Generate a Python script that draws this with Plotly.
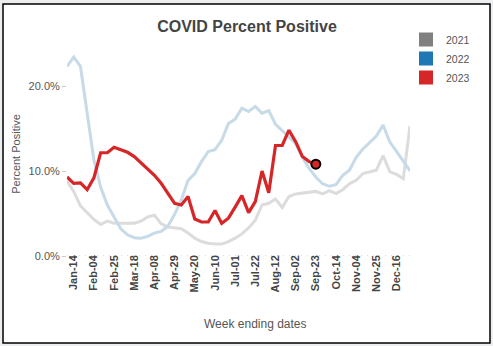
import pandas as pd
import plotly.graph_objects as go

# Week ending dates (Saturdays of 2023)
WEEKS = list(pd.date_range("2023-01-07", periods=52, freq="7D").strftime("%b-%d"))

TICK_LABELS = ["Jan-14", "Feb-04", "Feb-25", "Mar-18", "Apr-08", "Apr-29", "May-20",
               "Jun-10", "Jul-01", "Jul-22", "Aug-12", "Sep-02", "Sep-23", "Oct-14",
               "Nov-04", "Nov-25", "Dec-16"]

# Percent positive (%)
Y2021 = [8.8, 7.6, 5.9, 5.1, 4.3, 3.7, 4.1, 3.85, 3.85, 3.8, 3.85, 4.1, 4.6, 4.8,
         3.8, 3.4, 3.3, 3.2, 2.7, 2.1, 1.7, 1.5, 1.4, 1.4, 1.7, 2.1, 2.6, 3.3,
         4.2, 6.0, 6.2, 6.7, 5.7, 7.0, 7.3, 7.4, 7.45, 7.6, 7.3, 7.7, 7.35, 7.8,
         8.5, 8.9, 9.7, 9.9, 10.1, 11.8, 9.9, 9.6, 9.1, 15.3]

Y2022 = [22.3, 23.4, 22.3, 16.8, 11.3, 8.1, 6.0, 4.6, 3.2, 2.5, 2.15, 2.1, 2.3, 2.7,
         2.9, 3.5, 4.9, 6.6, 8.9, 9.7, 11.1, 12.3, 12.5, 13.6, 15.6, 16.1, 17.4, 17.0,
         17.6, 16.8, 17.1, 15.5, 14.8, 14.0, 13.2, 11.6, 10.3, 9.3, 8.5, 8.2, 8.4, 9.5,
         10.1, 11.6, 12.6, 13.3, 14.1, 15.4, 13.4, 12.3, 11.1, 10.0]

Y2023 = [9.3, 8.55, 8.6, 7.8, 9.2, 12.15, 12.15, 12.8, 12.5, 12.2, 11.7, 11.0, 10.3,
         9.5, 8.55, 7.35, 6.2, 6.0, 7.0, 4.35, 4.0, 4.0, 5.35, 3.85, 4.45, 5.75, 7.1,
         5.1, 6.4, 10.0, 7.45, 13.0, 13.0, 14.8, 13.45, 11.7, 11.1, 10.8]

FONT = "Arial, Liberation Sans, sans-serif"

fig = go.Figure()

fig.add_trace(go.Scatter(x=WEEKS[:len(Y2021)], y=Y2021, mode="lines",
                         line=dict(color="#dcdcdc", width=3), showlegend=False,
                         hoverinfo="skip"))
fig.add_trace(go.Scatter(x=WEEKS[:len(Y2022)], y=Y2022, mode="lines",
                         line=dict(color="#c6dae8", width=3), showlegend=False,
                         hoverinfo="skip"))
fig.add_trace(go.Scatter(x=WEEKS[:len(Y2023)], y=Y2023, mode="lines",
                         line=dict(color="#d62728", width=3.2), showlegend=False))
fig.add_trace(go.Scatter(x=[WEEKS[len(Y2023) - 1]], y=[Y2023[-1]], mode="markers",
                         marker=dict(color="#d62728", size=9,
                                     line=dict(color="black", width=2)),
                         showlegend=False))

# legend entries (square swatches)
for name, col in [("2021", "#808080"), ("2022", "#1f77b4"), ("2023", "#d62728")]:
    fig.add_trace(go.Scatter(x=[None], y=[None], mode="markers", name=name,
                             marker=dict(symbol="square", size=14, color=col)))

L, R, T, B = 67, 83, 52, 90
W, H = 493, 346
pw = W - L - R
ph = H - T - B

def px_x(p):
    return (p - L) / pw

def px_y(p):
    return (H - B - p) / ph

fig.update_layout(
    width=W, height=H,
    margin=dict(l=L, r=R, t=T, b=B, pad=0),
    paper_bgcolor="#eceef0",
    plot_bgcolor="rgba(0,0,0,0)",
    font=dict(family=FONT, color="#555555"),
    title=dict(text="<b>COVID Percent Positive</b>", x=247 / W, xanchor="center",
               y=1 - 26 / H, yanchor="middle", yref="container",
               font=dict(size=16, color="#444444", family=FONT)),
    xaxis=dict(type="category", categoryorder="array", categoryarray=WEEKS,
               range=[0, 51], showgrid=False, zeroline=False, showline=False,
               tickmode="array", tickvals=TICK_LABELS, ticktext=TICK_LABELS,
               tickangle=-90, ticks="", ticklabelstandoff=-4,
               tickfont=dict(size=11, color="#444444", family=FONT, weight="bold")),
    yaxis=dict(range=[0, 24], showgrid=False, zeroline=False, showline=False,
               tickvals=[0, 10, 20], ticktext=["0.0%", "10.0%", "20.0%"],
               ticks="outside", ticklen=4, tickcolor="#cccccc",
               tickfont=dict(size=11, color="#555555"),
               title=dict(text="Percent Positive", font=dict(size=11, color="#555555"),
                          standoff=5)),
    legend=dict(x=px_x(406), xanchor="left", y=px_y(25), yanchor="top",
                font=dict(size=10.5, color="#555555"), bgcolor="rgba(0,0,0,0)",
                tracegroupgap=0, itemsizing="trace"),
    shapes=[
        dict(type="rect", xref="paper", yref="paper",
             x0=px_x(3), x1=px_x(490), y0=px_y(343), y1=px_y(4),
             fillcolor="white", line=dict(color="black", width=1.5), layer="below"),
        dict(type="line", xref="paper", yref="y", x0=0, x1=1, y0=0, y1=0,
             line=dict(color="#bbbbbb", width=1, dash="1px,5px"), layer="below"),
    ],
    annotations=[
        dict(text="Week ending dates", xref="paper", yref="paper",
             x=px_x(256), y=px_y(324), xanchor="center", yanchor="middle",
             showarrow=False, font=dict(size=12, color="#555555")),
    ],
    showlegend=True,
)

fig.write_html("out.html")
